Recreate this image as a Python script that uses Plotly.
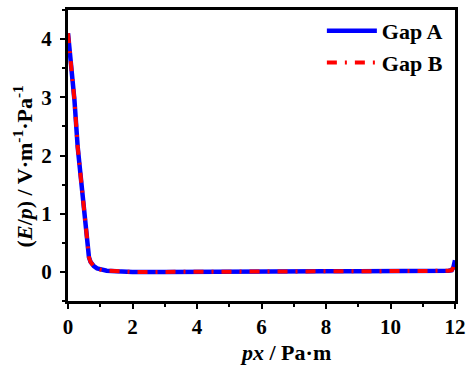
import plotly.graph_objects as go

x_a = [0, 0.05, 0.1, 0.15, 0.2, 0.3, 0.4, 0.5, 0.55, 0.6, 0.65, 0.7, 0.75, 0.8, 0.9, 1.0, 1.2, 1.5, 2, 3, 4, 5, 6, 7, 8, 9, 10, 11, 11.5, 11.8, 11.9, 11.95, 12]
y_a = [4.1, 3.85, 3.55, 3.25, 2.95, 2.15, 1.6, 1.0, 0.7, 0.42, 0.25, 0.17, 0.13, 0.1, 0.06, 0.04, 0.02, 0.01, 0.0, 0.0, 0.005, 0.01, 0.01, 0.01, 0.01, 0.01, 0.01, 0.01, 0.01, 0.02, 0.03, 0.08, 0.2]
x_b = list(x_a)
y_b = list(y_a)
x_ticks = [0, 2, 4, 6, 8, 10, 12]
y_ticks = [0, 1, 2, 3, 4]

FAM = "'Liberation Serif', serif"
SZ = 22
TSZ = 21

fig = go.Figure()
fig.add_trace(go.Scatter(x=x_a, y=y_a, mode="lines", name="Gap A",
                         line=dict(color="#0000ff", width=4.5)))
fig.add_trace(go.Scatter(x=x_b, y=y_b, mode="lines", name="Gap B",
                         line=dict(color="#ff0000", width=4, dash="10px,8px,2px,8px")))

fig.update_layout(
    width=473, height=365,
    margin=dict(l=68, r=10, t=7, b=64),
    paper_bgcolor="white", plot_bgcolor="white",
    font=dict(family=FAM, size=SZ, color="black", weight="bold"),
    legend=dict(x=0.656, y=1.0, xanchor="left", yanchor="top", bgcolor="rgba(0,0,0,0)",
                itemwidth=50, tracegroupgap=0,
                font=dict(family=FAM, size=SZ, color="black", weight="bold")),
    annotations=[
        dict(text="(<i>E</i>/<i>p</i>) / V·m<sup>-1</sup>·Pa<sup>-1</sup>",
             xref="paper", yref="paper", x=-0.116, y=0.463,
             xanchor="center", yanchor="middle", textangle=-90, showarrow=False,
             font=dict(family=FAM, size=SZ, color="black", weight="bold")),
        dict(text="<i>px</i> / Pa·m",
             xref="paper", yref="paper", x=0.561, y=-0.178,
             xanchor="center", yanchor="middle", showarrow=False,
             font=dict(family=FAM, size=SZ, color="black", weight="bold")),
    ],
)
fig.update_xaxes(range=[0, 12], tickvals=x_ticks,
                 tickfont=dict(family=FAM, size=TSZ, weight="bold"),
                 ticklabeloverflow="allow",
                 showline=True, linecolor="black", linewidth=3, mirror=True,
                 ticks="outside", ticklen=5, tickwidth=2, tickcolor="black",
                 minor=dict(dtick=1, ticks="outside", ticklen=3, tickwidth=1.5, tickcolor="black"),
                 showgrid=False, zeroline=False)
fig.update_yaxes(range=[-0.5, 4.5], tickvals=y_ticks,
                 tickfont=dict(family=FAM, size=TSZ, weight="bold"),
                 showline=True, linecolor="black", linewidth=3, mirror=True,
                 ticks="outside", ticklen=5, tickwidth=2, tickcolor="black",
                 minor=dict(dtick=0.5, ticks="outside", ticklen=3, tickwidth=1.5, tickcolor="black"),
                 showgrid=False, zeroline=False, ticklabelstandoff=4)

fig.write_html("out.html")
